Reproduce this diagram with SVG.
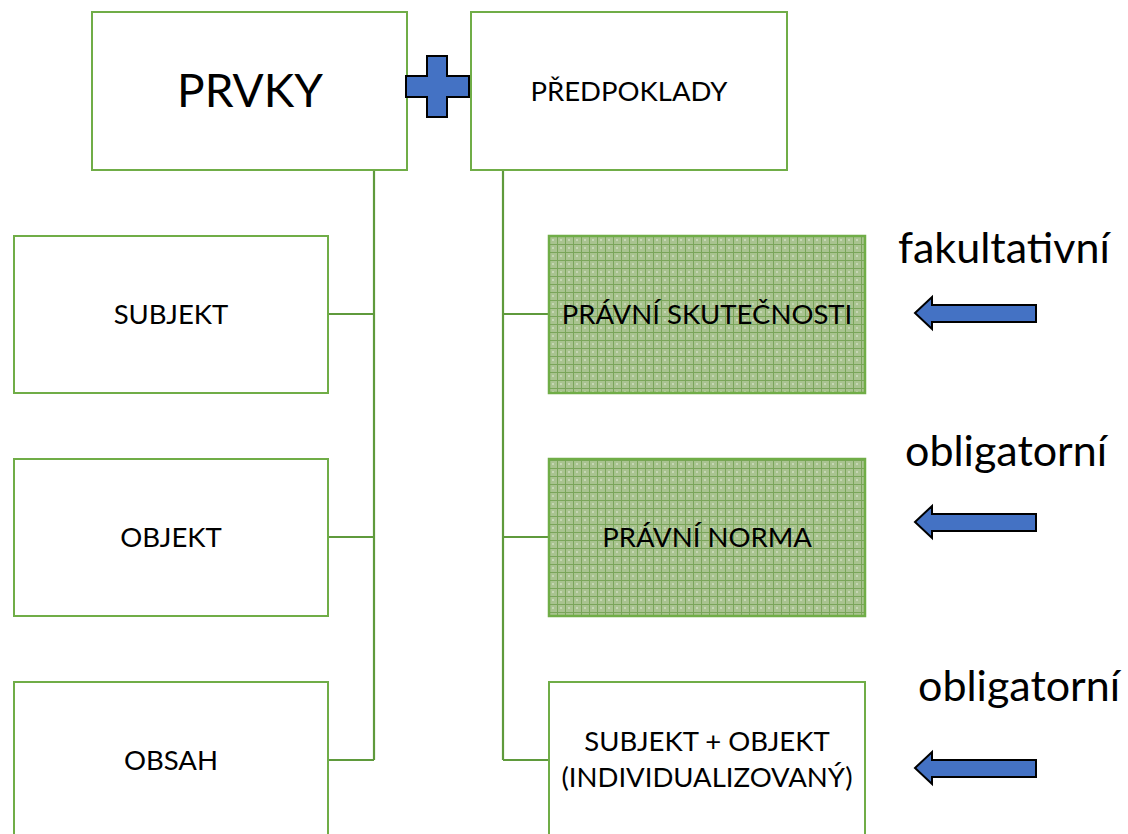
<svg xmlns="http://www.w3.org/2000/svg" width="1128" height="834" viewBox="0 0 1128 834">
<style>
.box{fill:#fff;stroke:#70ad47;stroke-width:2}
.pat{fill:url(#grid);stroke:#70ad47;stroke-width:2.5}
.t{font-family:Lato,"Open Sans",sans-serif;font-size:27.5px;fill:#000;text-anchor:middle}
.big{font-size:46px}
.lbl{font-family:Lato,"Open Sans",sans-serif;font-size:43px;fill:#000}
.conn{fill:none;stroke:#5f9a3c;stroke-width:2.2}
.blue{fill:#4472c4;stroke:#000;stroke-width:2}
</style>
<defs>
<pattern id="grid" width="8" height="8" patternUnits="userSpaceOnUse" x="549" y="236">
<rect width="8" height="8" fill="#a9c390"/>
<path d="M0 0.5H8M0.5 0V8" stroke="#7aa55a" stroke-width="1"/>
<circle cx="4" cy="4" r="1" fill="#cfdec0"/>
</pattern>
</defs>
<g id="connectors">
<path class="conn" d="M374 170V760M328 314H374M328 537H374M328 760H374"/>
<path class="conn" d="M503 170V760M503 314H549M503 537H549M503 760H549"/>
</g>
<g id="prvky"><rect class="box" x="92" y="12" width="315" height="158"/><text class="t big" x="250" y="107">PRVKY</text></g>
<g id="predpoklady"><rect class="box" x="471" y="12" width="316" height="158"/><text class="t" x="629" y="101">PŘEDPOKLADY</text></g>
<g id="plus"><path class="blue" d="M427 56H447V76H469V97H447V117H427V97H406V76H427Z"/></g>
<g id="subjekt"><rect class="box" x="14" y="236" width="314" height="157"/><text class="t" x="171" y="324">SUBJEKT</text></g>
<g id="objekt"><rect class="box" x="14" y="459" width="314" height="157"/><text class="t" x="171" y="547">OBJEKT</text></g>
<g id="obsah"><rect class="box" x="14" y="682" width="314" height="160"/><text class="t" x="171" y="770">OBSAH</text></g>
<g id="skutecnosti"><rect class="pat" x="549" y="236" width="316" height="157"/><text class="t" x="707" y="324">PRÁVNÍ SKUTEČNOSTI</text></g>
<g id="norma"><rect class="pat" x="549" y="459" width="316" height="157"/><text class="t" x="707" y="547">PRÁVNÍ NORMA</text></g>
<g id="subobj"><rect class="box" x="549" y="682" width="316" height="160"/><text class="t" x="707" y="751">SUBJEKT + OBJEKT</text><text class="t" x="707" y="787">(INDIVIDUALIZOVANÝ)</text></g>
<g id="arrow1"><path class="blue" d="M915 313L932 297V305H1036V322H932V329Z"/></g>
<g id="arrow2"><path class="blue" d="M915 522L932 506V514H1036V531H932V538Z"/></g>
<g id="arrow3"><path class="blue" d="M915 768L932 752V760H1036V777H932V784Z"/></g>
<text class="lbl" x="898" y="263">fakultativní</text>
<text class="lbl" x="905" y="466">obligatorní</text>
<text class="lbl" x="918" y="701">obligatorní</text>
</svg>
